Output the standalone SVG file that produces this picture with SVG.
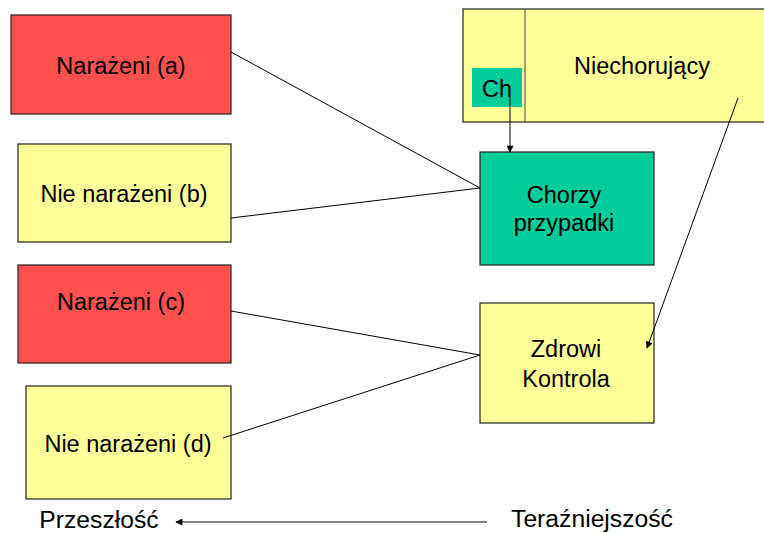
<svg xmlns="http://www.w3.org/2000/svg" width="764" height="533" viewBox="0 0 764 533">
  <style>
    text { font-family: "Liberation Sans", Arial, sans-serif; font-size: 23.5px; fill: #000; text-anchor: middle; }
    .time { font-size: 24.7px; }
    .box { stroke: #222; stroke-width: 1.2; }
    .red { fill: #FF5050; }
    .yellow { fill: #FFFF99; }
    .green { fill: #00CC99; }
    .conn { stroke: #000; stroke-width: 1; fill: none; }
  </style>
  <defs>
    <marker id="arrow" viewBox="0 0 10 10" refX="9" refY="5" markerWidth="8" markerHeight="7" markerUnits="userSpaceOnUse" orient="auto">
      <path d="M0,0 L10,5 L0,10 z" fill="#000"/>
    </marker>
  </defs>

  <g id="narazeni-a">
    <rect class="box red" x="11" y="15" width="220" height="99"/>
    <text x="121" y="74">Narażeni (a)</text>
  </g>
  <g id="nie-narazeni-b">
    <rect class="box yellow" x="18" y="144" width="213" height="98"/>
    <text x="124" y="202">Nie narażeni (b)</text>
  </g>
  <g id="narazeni-c">
    <rect class="box red" x="18" y="265" width="213" height="98"/>
    <text x="121" y="310">Narażeni (c)</text>
  </g>
  <g id="nie-narazeni-d">
    <rect class="box yellow" x="26" y="386" width="205" height="113"/>
    <text x="128" y="452">Nie narażeni (d)</text>
  </g>

  <g id="niechorujacy">
    <rect class="box yellow" x="463" y="9" width="310" height="113"/>
    <line x1="525" y1="9" x2="525" y2="122" stroke="#444" stroke-width="1"/>
    <text x="642" y="74">Niechorujący</text>
  </g>
  <g id="ch">
    <rect class="green" x="472" y="68" width="50" height="39"/>
    <text x="497" y="97">Ch</text>
  </g>

  <g id="chorzy-przypadki">
    <rect class="box green" x="480" y="152" width="174" height="113"/>
    <text x="564" y="203">Chorzy</text>
    <text x="564" y="231">przypadki</text>
  </g>
  <g id="zdrowi-kontrola">
    <rect class="box yellow" x="480" y="303" width="174" height="120"/>
    <text x="566" y="357">Zdrowi</text>
    <text x="566" y="387">Kontrola</text>
  </g>

  <g id="connectors">
    <line class="conn" x1="231" y1="52" x2="480" y2="188"/>
    <line class="conn" x1="231" y1="218" x2="480" y2="188"/>
    <line class="conn" x1="231" y1="311" x2="480" y2="355"/>
    <line class="conn" x1="223" y1="438" x2="480" y2="355"/>
    <line class="conn" x1="510" y1="97" x2="510" y2="152" marker-end="url(#arrow)"/>
    <line class="conn" x1="738" y1="98" x2="647" y2="348" marker-end="url(#arrow)"/>
    <line class="conn" x1="487" y1="522" x2="176" y2="522" marker-end="url(#arrow)"/>
  </g>

  <g id="timeline-labels">
    <text class="time" x="99" y="528">Przeszłość</text>
    <text class="time" x="592" y="527">Teraźniejszość</text>
  </g>
</svg>
